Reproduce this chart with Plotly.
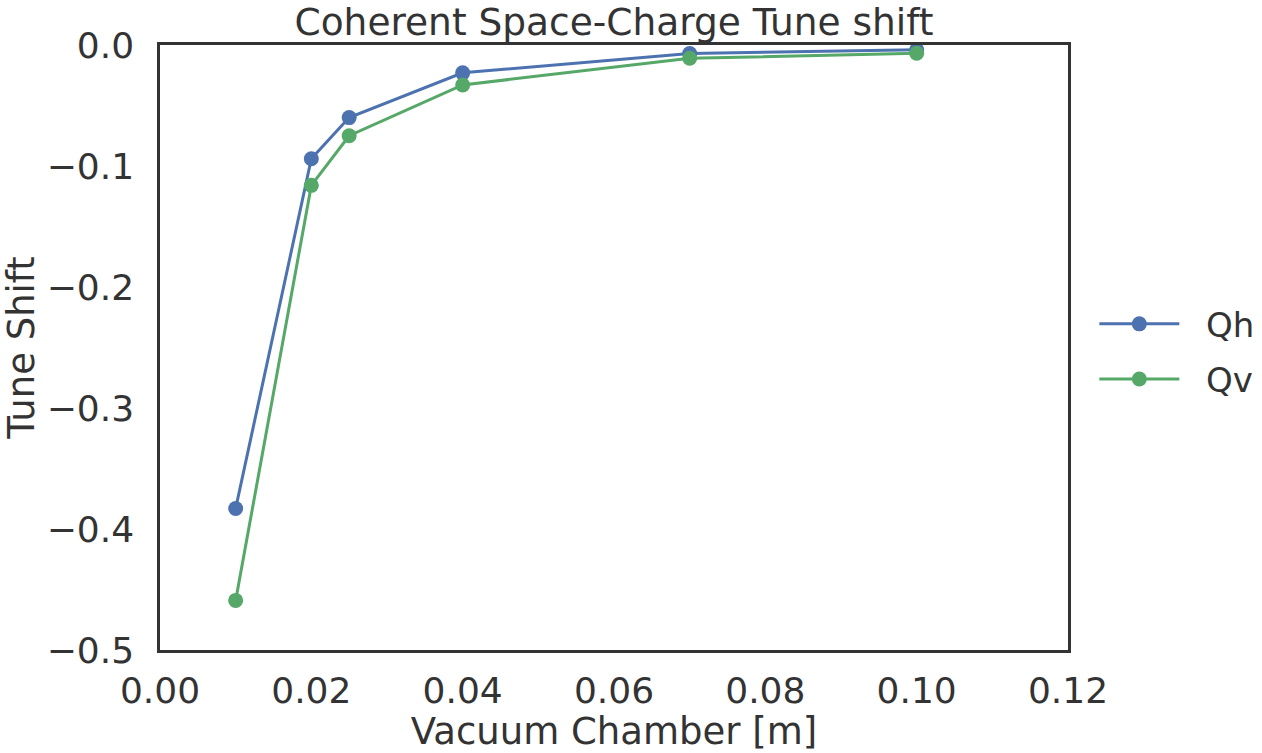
import plotly.graph_objects as go

# Vacuum chamber size [m] and coherent tune shifts
chamber = [0.01, 0.02, 0.025, 0.04, 0.07, 0.10]
qh = [-0.383, -0.094, -0.060, -0.023, -0.007, -0.004]
qv = [-0.459, -0.116, -0.075, -0.033, -0.011, -0.0068]

BLUE = "#4C72B0"
GREEN = "#55A868"
INK = "#333333"
FONT = "DejaVu Sans"
GAP = "\u00a0\u00a0"  # spacing between legend symbol and its label

fig = go.Figure()
for name, ys, col in (("Qh", qh, BLUE), ("Qv", qv, GREEN)):
    fig.add_trace(go.Scatter(
        x=chamber, y=ys, name=GAP + name, legendgroup=name,
        mode="lines+markers",
        line=dict(color=col, width=3),
        marker=dict(color=col, size=15),
    ))

axis_common = dict(
    showgrid=False, zeroline=False, showline=True, mirror=True,
    linecolor=INK, linewidth=2.5, ticks="", automargin=False,
    tickfont=dict(family=FONT, size=36, color=INK),
)

fig.update_layout(
    width=1262, height=753, autosize=False,
    paper_bgcolor="white", plot_bgcolor="white",
    margin=dict(l=160, r=194, t=45, b=103, autoexpand=False),
    font=dict(family=FONT, color=INK),
    title=dict(text="Coherent Space-Charge Tune shift",
               font=dict(family=FONT, size=37.5, color=INK),
               x=(160 + 1068) / 2 / 1262, xanchor="center",
               y=1 - 22 / 753, yanchor="middle"),
    xaxis=dict(range=[0, 0.12], tickvals=[0, 0.02, 0.04, 0.06, 0.08, 0.10, 0.12],
               tickformat=".2f", ticklabelstandoff=7,
               title=dict(text="Vacuum Chamber [m]", standoff=6,
                          font=dict(family=FONT, size=37, color=INK)),
               **axis_common),
    yaxis=dict(range=[-0.5, 0], tickvals=[-0.5, -0.4, -0.3, -0.2, -0.1, 0.0],
               tickformat=".1f", ticklabelstandoff=16,
               title=dict(text="Tune Shift", standoff=16,
                          font=dict(family=FONT, size=37, color=INK)),
               **axis_common),
    legend=dict(x=1.029, xanchor="left", y=0.493, yanchor="middle",
                font=dict(family=FONT, size=34, color=INK),
                traceorder="grouped", tracegroupgap=8,
                itemwidth=80, bgcolor="rgba(0,0,0,0)"),
)

fig.write_html("out.html")
